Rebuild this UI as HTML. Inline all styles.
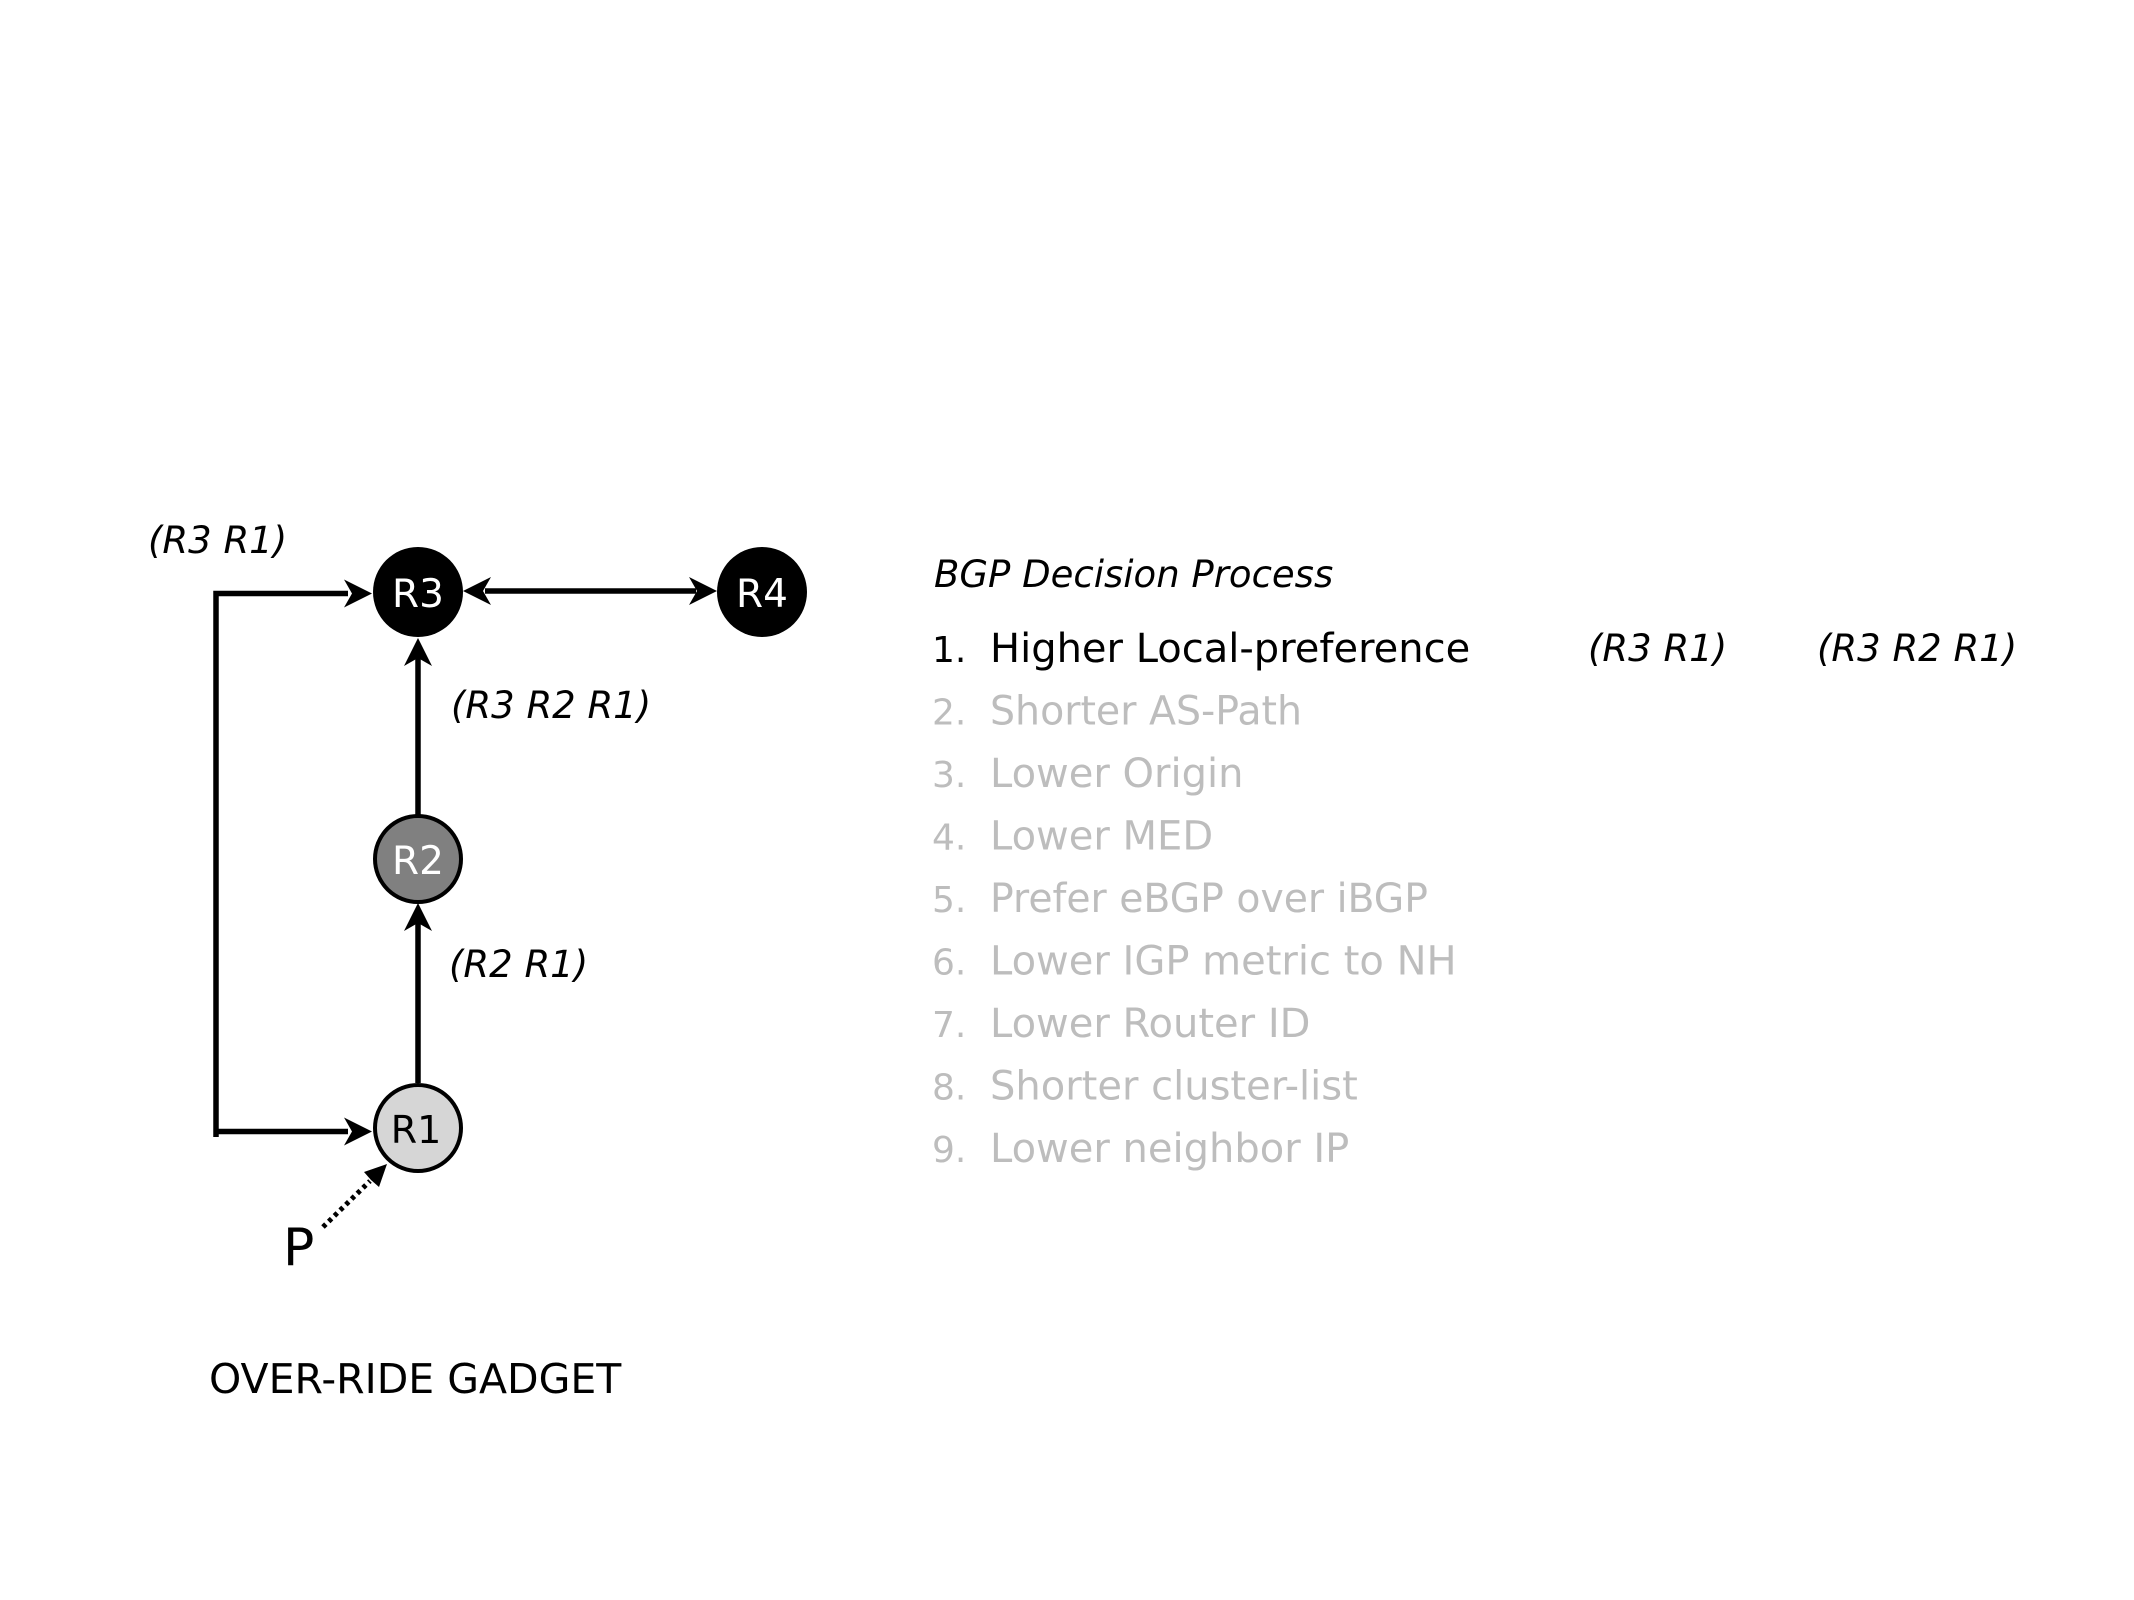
<!DOCTYPE html>
<html>
<head>
<meta charset="utf-8">
<style>
  html, body { margin: 0; padding: 0; background: #ffffff; }
  svg { display: block; }
  text { font-family: "DejaVu Sans", "Liberation Sans", sans-serif; }
  .it { font-style: italic; }
</style>
</head>
<body>
<svg width="2134" height="1600" viewBox="0 0 2134 1600" xmlns="http://www.w3.org/2000/svg">
  <rect x="0" y="0" width="2134" height="1600" fill="#ffffff"/>

  <!-- Left bracket connector: R1 -> around -> R3 -->
  <polyline points="216,1137 216,593.5 348,593.5" fill="none" stroke="#000" stroke-width="5.5" stroke-linejoin="miter"/>
  <polygon points="372,593.5 344,579.5 352,593.5 344,607.5" fill="#000"/>
  <line x1="213.5" y1="1131.5" x2="348" y2="1131.5" stroke="#000" stroke-width="5.5"/>
  <polygon points="372,1131.5 344,1117.5 352,1131.5 344,1145.5" fill="#000"/>

  <!-- R3 <-> R4 -->
  <line x1="485" y1="591" x2="696" y2="591" stroke="#000" stroke-width="5.5"/>
  <polygon points="463,591 491,577 483,591 491,605" fill="#000"/>
  <polygon points="717,591 689,577 697,591 689,605" fill="#000"/>

  <!-- R2 -> R3 -->
  <line x1="418" y1="815" x2="418" y2="658" stroke="#000" stroke-width="5.5"/>
  <polygon points="418,638 404,666 418,658 432,666" fill="#000"/>

  <!-- R1 -> R2 -->
  <line x1="418" y1="1083" x2="418" y2="923" stroke="#000" stroke-width="5.5"/>
  <polygon points="418,903 404,931 418,923 432,931" fill="#000"/>

  <!-- Dotted arrow P -> R1 -->
  <line x1="323" y1="1227" x2="370" y2="1181" stroke="#000" stroke-width="5" stroke-dasharray="4 4"/>
  <polygon points="387,1164 364,1172 371,1180 379,1187" fill="#000"/>

  <!-- Nodes -->
  <circle cx="418" cy="592" r="45" fill="#000"/>
  <circle cx="762" cy="592" r="45" fill="#000"/>
  <circle cx="418" cy="859" r="43" fill="#808080" stroke="#000" stroke-width="4"/>
  <circle cx="418" cy="1128" r="43" fill="#d6d6d6" stroke="#000" stroke-width="4"/>

  <text x="418" y="607" font-size="39" fill="#fff" text-anchor="middle">R3</text>
  <text x="762" y="607" font-size="39" fill="#fff" text-anchor="middle">R4</text>
  <text x="418" y="874" font-size="39" fill="#fff" text-anchor="middle">R2</text>
  <text x="416" y="1143" font-size="38" fill="#000" text-anchor="middle">R1</text>

  <!-- Path labels -->
  <text class="it" x="148" y="553" font-size="37" fill="#000">(R3 R1)</text>
  <text class="it" x="451" y="718" font-size="37" fill="#000">(R3 R2 R1)</text>
  <text class="it" x="449" y="977" font-size="37" fill="#000">(R2 R1)</text>

  <!-- P -->
  <text x="283" y="1265" font-size="52" fill="#000">P</text>

  <!-- Caption -->
  <text x="209" y="1393" font-size="41" fill="#000">OVER-RIDE GADGET</text>

  <!-- BGP Decision Process -->
  <text class="it" x="934" y="587" font-size="37" fill="#000">BGP Decision Process</text>

  <g font-size="40">
    <text x="932" y="662" font-size="36" fill="#000">1.</text>
    <text x="990" y="662" fill="#000">Higher Local-preference</text>

    <text x="932" y="724.5" font-size="36" fill="#bdbdbd">2.</text>
    <text x="990" y="724.5" fill="#bdbdbd" textLength="312" lengthAdjust="spacingAndGlyphs">Shorter AS-Path</text>

    <text x="932" y="787" font-size="36" fill="#bdbdbd">3.</text>
    <text x="990" y="787" fill="#bdbdbd">Lower Origin</text>

    <text x="932" y="849.5" font-size="36" fill="#bdbdbd">4.</text>
    <text x="990" y="849.5" fill="#bdbdbd">Lower MED</text>

    <text x="932" y="912" font-size="36" fill="#bdbdbd">5.</text>
    <text x="990" y="912" fill="#bdbdbd" textLength="438" lengthAdjust="spacingAndGlyphs">Prefer eBGP over iBGP</text>

    <text x="932" y="974.5" font-size="36" fill="#bdbdbd">6.</text>
    <text x="990" y="974.5" fill="#bdbdbd">Lower IGP metric to NH</text>

    <text x="932" y="1037" font-size="36" fill="#bdbdbd">7.</text>
    <text x="990" y="1037" fill="#bdbdbd">Lower Router ID</text>

    <text x="932" y="1099.5" font-size="36" fill="#bdbdbd">8.</text>
    <text x="990" y="1099.5" fill="#bdbdbd">Shorter cluster-list</text>

    <text x="932" y="1162" font-size="36" fill="#bdbdbd">9.</text>
    <text x="990" y="1162" fill="#bdbdbd">Lower neighbor IP</text>
  </g>

  <text class="it" x="1588" y="661" font-size="37" fill="#000">(R3 R1)</text>
  <text class="it" x="1817" y="661" font-size="37" fill="#000">(R3 R2 R1)</text>
</svg>
</body>
</html>
